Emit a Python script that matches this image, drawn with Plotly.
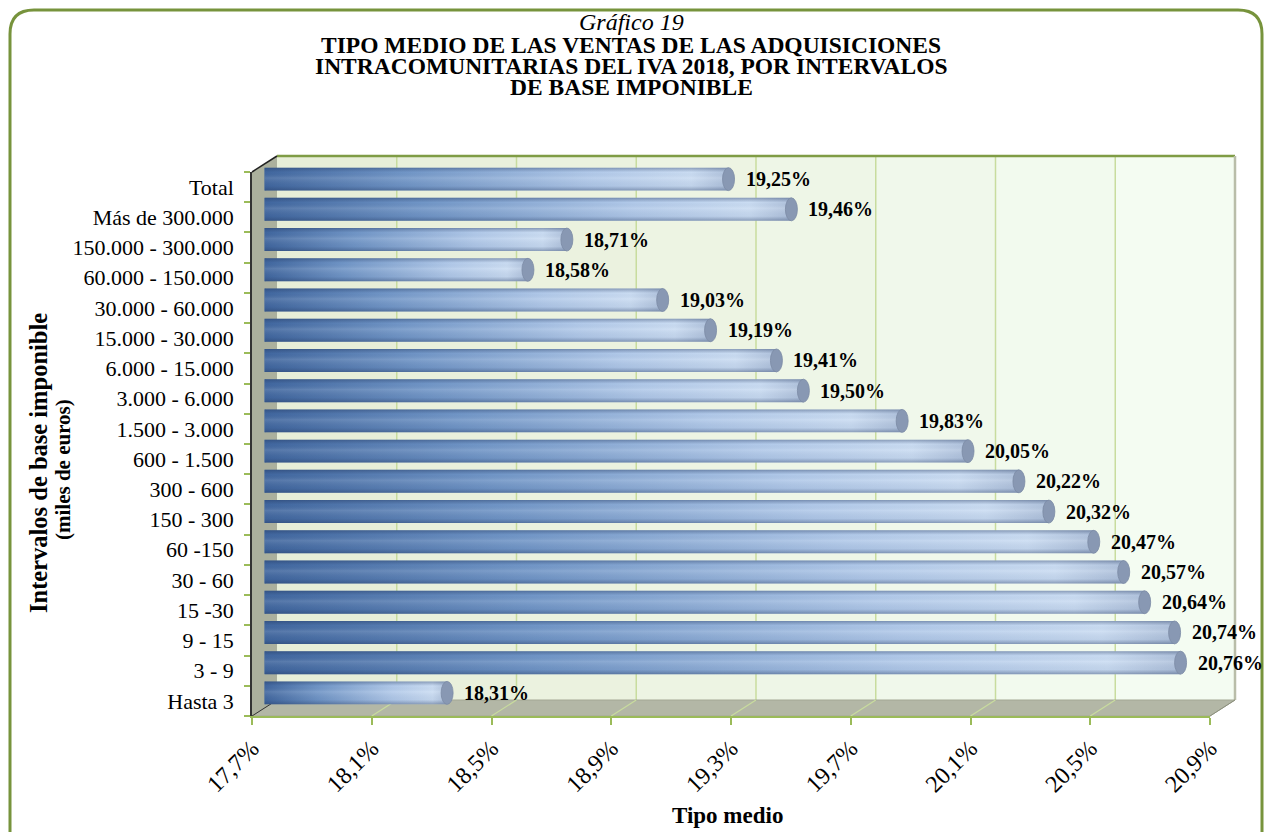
import plotly.graph_objects as go

# ---------------- data ----------------
categories = ["Hasta 3", "3 - 9", "9 - 15", "15 -30", "30 - 60", "60 -150",
              "150 - 300", "300 - 600", "600 - 1.500", "1.500 - 3.000",
              "3.000 - 6.000", "6.000 - 15.000", "15.000 - 30.000",
              "30.000 - 60.000", "60.000 - 150.000", "150.000 - 300.000",
              "Más de 300.000", "Total"]
values = [18.31, 20.76, 20.74, 20.64, 20.57, 20.47, 20.32, 20.22, 20.05, 19.83,
          19.50, 19.41, 19.19, 19.03, 18.58, 18.71, 19.46, 19.25]
tick_values = [17.7, 18.1, 18.5, 18.9, 19.3, 19.7, 20.1, 20.5, 20.9]
tick_labels = ["17,7%", "18,1%", "18,5%", "18,9%", "19,3%", "19,7%", "20,1%", "20,5%", "20,9%"]
title_sub = "Gráfico 19"
title_lines = ["TIPO MEDIO DE LAS VENTAS DE LAS ADQUISICIONES",
               "INTRACOMUNITARIAS DEL IVA 2018, POR INTERVALOS",
               "DE BASE IMPONIBLE"]
x_title = "Tipo medio"
y_title = "Intervalos de base imponible"
y_subtitle = "(miles de euros)"

# ---------------- geometry / style ----------------
W, H = 1265, 832
ML, MR, MT, MB = 252, 30, 156, 116
PW, PH = W - ML - MR, H - MT - MB
DX, DY = 25, 16                      # 3D depth offset (px)
FW, FH = PW - DX, PH - DY            # front plane size
XMIN, XMAX = tick_values[0], tick_values[-1]
FONT = "Liberation Serif"
GREEN = "#9bbb59"
GRID = "#c8dc9e"
HALF = 0.38

def pxx(x):
    return (x - ML) / PW

def pxy(y):
    return (H - MB - y) / PH

def vx(v, d=0.0):
    return ((v - XMIN) / (XMAX - XMIN) * FW + d) / PW

def fy(yp_from_bottom):
    return yp_from_bottom / PH

fig = go.Figure()

# invisible trace to establish category axis on front plane
fig.add_trace(go.Scatter(x=values, y=categories, mode="markers",
                         marker=dict(opacity=0), hoverinfo="skip",
                         showlegend=False, xaxis="x", yaxis="y"))

BAR_SCALE = [[0.0, "#40669e"], [0.3, "#7095c6"], [0.7, "#b1c9e9"],
             [0.92, "#cadcf2"], [1.0, "#afc1db"]]
SHADE_SCALE = [[0.0, "rgba(30,50,90,0.38)"], [0.2, "rgba(40,60,100,0.06)"],
               [0.55, "rgba(255,255,255,0.12)"], [0.8, "rgba(40,60,100,0.0)"],
               [1.0, "rgba(30,50,90,0.38)"]]

shapes = []

for i, v in enumerate(values):
    xs = [XMIN, v, v, XMIN, XMIN]
    ys = [i - HALF, i - HALF, i + HALF, i + HALF, i - HALF]
    fig.add_trace(go.Scatter(x=xs, y=ys, fill="toself", mode="lines",
                             line=dict(width=0),
                             fillgradient=dict(type="horizontal", colorscale=BAR_SCALE),
                             hoverinfo="skip", showlegend=False,
                             xaxis="x2", yaxis="y2"))
    fig.add_trace(go.Scatter(x=xs, y=ys, fill="toself", mode="lines",
                             line=dict(width=0),
                             fillgradient=dict(type="vertical", colorscale=SHADE_SCALE),
                             hoverinfo="skip", showlegend=False,
                             xaxis="x2", yaxis="y2"))

# ---- background 3D box (paper coordinates) ----
n_t = len(tick_values)
c0 = (231, 238, 216)
c1 = (244, 252, 242)
for k in range(n_t - 1):
    t = k / (n_t - 2)
    col = "rgb(%d,%d,%d)" % tuple(round(a + (b - a) * t) for a, b in zip(c0, c1))
    shapes.append(dict(type="rect", xref="paper", yref="paper",
                       x0=vx(tick_values[k], DX), x1=vx(tick_values[k + 1], DX),
                       y0=fy(DY), y1=1.0, fillcolor=col, line=dict(width=0),
                       layer="below"))
# back wall grid lines
for tv in tick_values[1:-1]:
    shapes.append(dict(type="line", xref="paper", yref="paper",
                       x0=vx(tv, DX), x1=vx(tv, DX), y0=fy(DY), y1=1.0,
                       line=dict(color=GRID, width=1.5), layer="below"))
# top edge of back wall
shapes.append(dict(type="line", xref="paper", yref="paper",
                   x0=vx(XMIN, DX), x1=vx(XMAX, DX), y0=1.0, y1=1.0,
                   line=dict(color="#7f9c45", width=2.5), layer="below"))
# right edge of back wall
shapes.append(dict(type="line", xref="paper", yref="paper",
                   x0=vx(XMAX, DX), x1=vx(XMAX, DX), y0=fy(DY), y1=1.0,
                   line=dict(color="#b9bda9", width=2.5), layer="below"))

# floor
def poly(pts):
    s = "M " + " L ".join("%f,%f" % p for p in pts) + " Z"
    return s

floor_pts = [(vx(XMIN), 0), (vx(XMAX), 0), (vx(XMAX, DX), fy(DY)), (vx(XMIN, DX), fy(DY))]
shapes.append(dict(type="path", xref="paper", yref="paper", path=poly(floor_pts),
                   fillcolor="#b3b7a6", line=dict(color="#a4a894", width=1),
                   layer="below"))
for tv in tick_values[1:-1]:
    shapes.append(dict(type="line", xref="paper", yref="paper",
                       x0=vx(tv), x1=vx(tv, DX), y0=0, y1=fy(DY),
                       line=dict(color=GRID, width=1.2), layer="below"))
# left wall
wall_pts = [(vx(XMIN), 0), (vx(XMIN), fy(FH)), (vx(XMIN, DX), 1.0), (vx(XMIN, DX), fy(DY))]
shapes.append(dict(type="path", xref="paper", yref="paper", path=poly(wall_pts),
                   fillcolor="#abb09d", line=dict(width=0), layer="below"))
shapes.append(dict(type="line", xref="paper", yref="paper",
                   x0=vx(XMIN), x1=vx(XMIN, DX), y0=fy(FH), y1=1.0,
                   line=dict(color="#222222", width=1.5), layer="below"))
shapes.append(dict(type="line", xref="paper", yref="paper",
                   x0=vx(XMIN), x1=vx(XMIN, DX), y0=0, y1=fy(DY),
                   line=dict(color="#333333", width=1), layer="below"))
shapes.append(dict(type="line", xref="paper", yref="paper",
                   x0=vx(XMAX), x1=vx(XMAX, DX), y0=0, y1=fy(DY),
                   line=dict(color="#8c907e", width=1), layer="below"))

# bar caps
for i, v in enumerate(values):
    shapes.append(dict(type="circle", xref="x2", yref="y2", xsizemode="pixel",
                       xanchor=XMIN, x0=-6, x1=6, y0=i - HALF, y1=i + HALF,
                       fillcolor="#41679f", line=dict(width=0), layer="below"))
    shapes.append(dict(type="circle", xref="x2", yref="y2", xsizemode="pixel",
                       xanchor=v, x0=-6, x1=6, y0=i - HALF, y1=i + HALF,
                       fillcolor="#8898b3", line=dict(color="#7b8aa5", width=0.8),
                       layer="above"))

# rounded outer border
bx0, by0, bx1, by1, r = 10, 10, 1262, 860, 24
pts = ("M %f,%f L %f,%f Q %f,%f %f,%f L %f,%f L %f,%f L %f,%f Q %f,%f %f,%f Z" % (
    pxx(bx0 + r), pxy(by0), pxx(bx1 - r), pxy(by0),
    pxx(bx1), pxy(by0), pxx(bx1), pxy(by0 + r),
    pxx(bx1), pxy(by1), pxx(bx0), pxy(by1),
    pxx(bx0), pxy(by0 + r), pxx(bx0), pxy(by0), pxx(bx0 + r), pxy(by0)))
shapes.append(dict(type="path", xref="paper", yref="paper", path=pts,
                   line=dict(color="#77933c", width=3), fillcolor="rgba(0,0,0,0)",
                   layer="below"))

annotations = []
# value labels
for i, v in enumerate(values):
    annotations.append(dict(x=v, y=i, xref="x2", yref="y2", xanchor="left",
                            yanchor="middle", xshift=15, showarrow=False,
                            text="<b>%s</b>" % ("%.2f%%" % v).replace(".", ","),
                            font=dict(family=FONT, size=20, color="black"),
                            ))
# titles
annotations.append(dict(x=pxx(631), y=pxy(22), xref="paper", yref="paper",
                        text="<i>%s</i>" % title_sub, showarrow=False,
                        font=dict(family=FONT, size=24, color="black"),
                        xanchor="center", yanchor="middle"))
for k, line in enumerate(title_lines):
    annotations.append(dict(x=pxx(631), y=pxy(45 + 21 * k), xref="paper", yref="paper",
                            text="<b>%s</b>" % line, showarrow=False,
                            font=dict(family=FONT, size=23.5, color="black"),
                            xanchor="center", yanchor="middle"))
annotations.append(dict(x=pxx(727), y=pxy(815), xref="paper", yref="paper",
                        text="<b>%s</b>" % x_title, showarrow=False,
                        font=dict(family=FONT, size=23, color="black"),
                        xanchor="center", yanchor="middle"))
annotations.append(dict(x=pxx(38), y=pxy(463), xref="paper", yref="paper",
                        text="<b>%s</b>" % y_title, showarrow=False, textangle=-90,
                        font=dict(family=FONT, size=24.5, color="black"),
                        xanchor="center", yanchor="middle"))
annotations.append(dict(x=pxx(63), y=pxy(470), xref="paper", yref="paper",
                        text="<b>%s</b>" % y_subtitle, showarrow=False, textangle=-90,
                        font=dict(family=FONT, size=21, color="black"),
                        xanchor="center", yanchor="middle"))

fig.update_layout(
    width=W, height=H,
    margin=dict(l=ML, r=MR, t=MT, b=MB, pad=0),
    paper_bgcolor="white", plot_bgcolor="rgba(0,0,0,0)",
    showlegend=False,
    shapes=shapes, annotations=annotations,
    xaxis=dict(domain=[0, FW / PW], range=[XMIN, XMAX], anchor="y",
               tickvals=tick_values, ticktext=tick_labels, tickangle=-45,
               ticks="outside", ticklen=7, tickcolor=GREEN, tickwidth=1.5,
               showline=True, linecolor=GREEN, linewidth=1.5,
               showgrid=False, zeroline=False,
               tickfont=dict(family=FONT, size=24, color="black")),
    yaxis=dict(domain=[0, FH / PH], anchor="x", type="category",
               categoryorder="array", categoryarray=categories,
               range=[-0.5, len(categories) - 0.5],
               tickson="boundaries", ticks="outside", ticklen=6,
               tickcolor=GREEN, tickwidth=1.5, ticklabelstandoff=12,
               showline=True, linecolor="#333333", linewidth=1.5,
               showgrid=False, zeroline=False,
               tickfont=dict(family=FONT, size=22, color="black")),
    xaxis2=dict(domain=[DX / 2 / PW, (DX / 2 + FW) / PW], range=[XMIN, XMAX],
                anchor="y2", visible=False),
    yaxis2=dict(domain=[DY / 2 / PH, (DY / 2 + FH) / PH],
                range=[-0.5, len(categories) - 0.5], anchor="x2", visible=False),
)

fig.write_html("out.html",
               config={"displayModeBar": False},
               post_script="document.body.style.margin='0';"
                           "document.body.style.overflow='hidden';")
